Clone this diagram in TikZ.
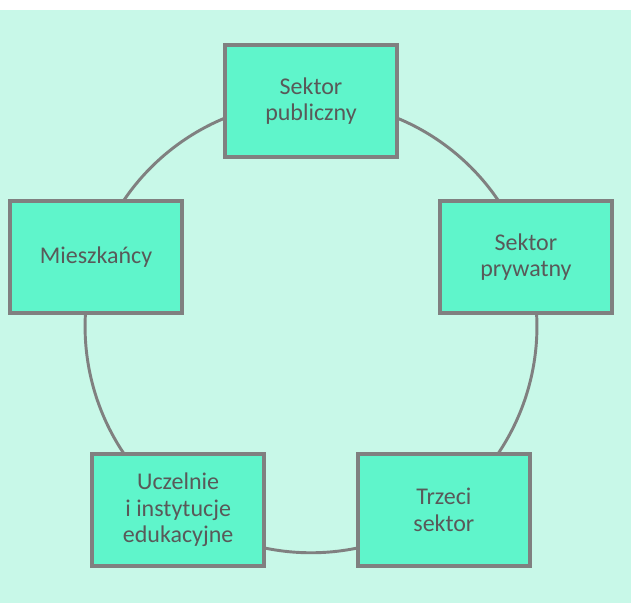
\documentclass[tikz,border=0pt]{standalone}
\usepackage{fontspec}
\setmainfont{Carlito}
\usetikzlibrary{backgrounds}
\definecolor{bgmint}{HTML}{C8F8E8}
\definecolor{boxmint}{HTML}{5FF5CB}
\definecolor{ringgray}{HTML}{808080}
\definecolor{textgray}{HTML}{595959}

\begin{document}
\begin{tikzpicture}[x=0.75pt, y=0.75pt,
    actor/.style={draw=ringgray, line width=3pt, fill=boxmint, text=textgray,
      minimum width=129pt, minimum height=84pt, inner sep=0pt, align=center,
      font=\fontsize{18pt}{20pt}\selectfont},
    ring/.style={draw=ringgray, line width=2.2pt}]
    \useasboundingbox (0,0) rectangle (631,603);
    \coordinate (mid) at (311,276);

    % Actors around the ring
    \node[actor] (pub) at ([shift={(90:226)}]mid) {Sektor\\publiczny};
    \node[actor] (pryw) at ([shift={(18:226)}]mid) {Sektor\\prywatny};
    \node[actor] (trzeci) at ([shift={(-54:226)}]mid) {Trzeci\\sektor};
    \node[actor] (ucz) at ([shift={(-126:226)}]mid) {Uczelnie\\i instytucje\\edukacyjne};
    \node[actor] (miesz) at ([shift={(162:226)}]mid) {Mieszkańcy};

    % Background and ring
    \begin{scope}[on background layer]
        \fill[bgmint] (0,0) rectangle (631,593);
        \foreach \a/\b in {pub/pryw, pryw/trzeci, trzeci/ucz, ucz/miesz, miesz/pub}
            \draw[ring] (\a.center) to[bend left=36, looseness=0.94] (\b.center);
    \end{scope}
\end{tikzpicture}
\end{document}
